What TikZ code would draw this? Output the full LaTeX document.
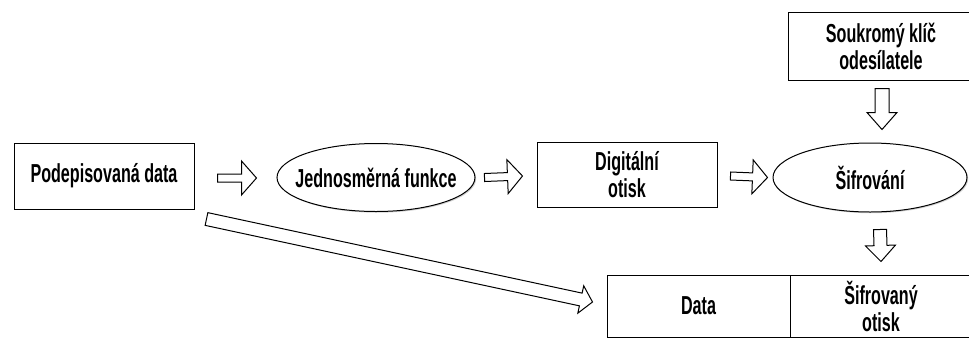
\documentclass[tikz,border=0pt]{standalone}
\usepackage{fontspec}
\setmainfont{Liberation Sans}
\newfontfamily\condfont{Liberation Sans}[FakeStretch=0.62]
\usetikzlibrary{calc,shapes.geometric,shadows}
\tikzset{
  base/.style={draw=black, line width=1pt, fill=white, font=\condfont\bfseries\fontsize{26}{27}\selectfont, align=center, inner sep=0pt,
    drop shadow={shadow xshift=1.2pt, shadow yshift=-1.2pt, fill=black!30, opacity=0.6}},
  box/.style={base, rectangle},
  ell/.style={base, ellipse, inner xsep=-14pt},
  arr/.style={draw=black, line width=1pt, fill=white, line join=miter}
}
\newcommand\blockarrow[5]{%
  \path (#2) coordinate (ba-t) ($(#2)!#5!(#1)$) coordinate (ba-h);
  \draw[arr] ($(#1)!#3!90:(#2)$) -- ($(ba-h)!#3!90:(ba-t)$) -- ($(ba-h)!#4!90:(ba-t)$) -- (ba-t)
    -- ($(ba-h)!#4!-90:(ba-t)$) -- ($(ba-h)!#3!-90:(ba-t)$) -- ($(#1)!#3!-90:(#2)$) -- cycle;
}
\begin{document}
\begin{tikzpicture}[x=1pt,y=-1pt]
\useasboundingbox (0,0) rectangle (969,341);
\node[box, minimum width=180pt, minimum height=66pt] (A) at (104,176) {Podepisovaná data};
\node[ell, minimum width=198pt, minimum height=68pt] (B) at (376,177.5) {Jednosměrná funkce};
\node[box, minimum width=180pt, minimum height=65pt] (C) at (627,174.5) {Digitální\\otisk};
\node[ell, minimum width=194pt, minimum height=69pt] (D) at (870,177.5) {Šifrování};
\node[box, minimum width=186pt, minimum height=68pt] (E) at (881,46) {Soukromý klíč\\odesílatele};
\node[box, minimum width=183pt, minimum height=62pt] (F) at (698.5,306) {Data};
\node[box, minimum width=182pt, minimum height=62pt] (G) at (881,306) {Šifrovaný\\otisk};
% connectors
\coordinate (a1s) at ($(A.east)+(23,2)$);
\coordinate (a1e) at ($(B.west)+(-20,0.5)$);
\blockarrow{a1s}{a1e}{4pt}{17pt}{15pt}
\coordinate (a2s) at ($(B.east)+(9,0)$);
\coordinate (a2e) at ($(C.west)+(-14,1.5)$);
\blockarrow{a2s}{a2e}{4pt}{17pt}{15pt}
\coordinate (a3s) at ($(C.east)+(13,1.5)$);
\coordinate (a3e) at ($(D.west)+(-5,0)$);
\blockarrow{a3s}{a3e}{4pt}{17pt}{15pt}
\coordinate (a4s) at ($(E.south)+(1,8)$);
\coordinate (a4e) at ($(D.north)+(12,-13)$);
\blockarrow{a4s}{a4e}{7pt}{15pt}{17pt}
\coordinate (a5s) at ($(D.south)+(10,17)$);
\coordinate (a5e) at ($(G.north)+(0,-13)$);
\blockarrow{a5s}{a5e}{6.5pt}{15pt}{16pt}
\coordinate (a6s) at ($(A.south east)+(12,9.5)$);
\coordinate (a6e) at ($(F.west)+(-14,-4)$);
\blockarrow{a6s}{a6e}{6.5pt}{14pt}{12pt}
\end{tikzpicture}
\end{document}
